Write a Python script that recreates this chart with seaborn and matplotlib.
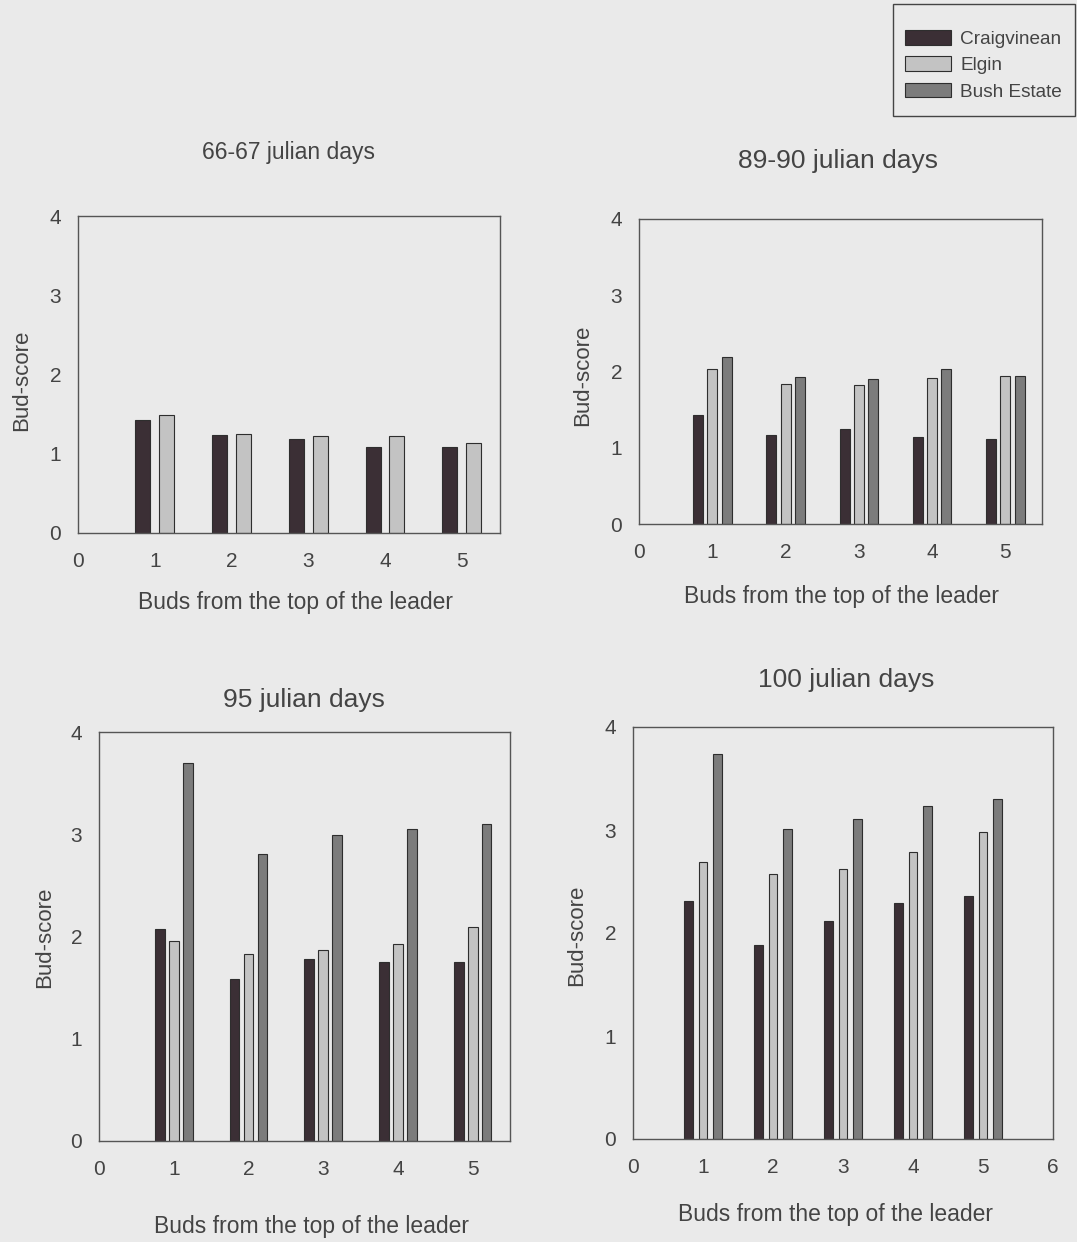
import matplotlib
matplotlib.use("Agg")
import matplotlib.pyplot as plt
from matplotlib.patches import Patch, Rectangle
import pandas as pd
import seaborn as sns

# ---- data -------------------------------------------------------------
buds = [1, 2, 3, 4, 5]
sites = ["Craigvinean", "Elgin", "Bush Estate"]

# mean bud-score per bud position (counted from the top of the leader)
craig_66 = [1.43, 1.24, 1.18, 1.08, 1.08]
elgin_66 = [1.49, 1.25, 1.23, 1.22, 1.13]

craig_89 = [1.43, 1.17, 1.24, 1.14, 1.12]
elgin_89 = [2.03, 1.84, 1.82, 1.92, 1.94]
bush_89 = [2.19, 1.93, 1.90, 2.03, 1.94]

craig_95 = [2.07, 1.58, 1.78, 1.75, 1.75]
elgin_95 = [1.96, 1.83, 1.87, 1.93, 2.09]
bush_95 = [3.70, 2.81, 2.99, 3.05, 3.10]

craig_100 = [2.31, 1.88, 2.12, 2.29, 2.36]
elgin_100 = [2.69, 2.57, 2.62, 2.79, 2.98]
bush_100 = [3.74, 3.01, 3.11, 3.23, 3.30]

titles = ["66-67 julian days", "89-90 julian days",
          "95 julian days", "100 julian days"]
xlabel = "Buds from the top of the leader"
ylabel = "Bud-score"

# ---- style ------------------------------------------------------------
W, H = 1077, 1242
BG = "#eaeaea"
INK = "#444444"
site_colors = {"Craigvinean": "#3b2f35", "Elgin": "#c3c3c3", "Bush Estate": "#7c7c7c"}

sns.set_theme(style="white")
plt.rcParams["font.family"] = ["Liberation Sans", "DejaVu Sans"]
plt.rcParams["text.color"] = INK
plt.rcParams["axes.labelcolor"] = INK
plt.rcParams["xtick.color"] = INK
plt.rcParams["ytick.color"] = INK

fig = plt.figure(figsize=(W / 100, H / 100), dpi=100, facecolor=BG)


def frame(df_parts):
    rows = []
    for site, vals in df_parts:
        for b, v in zip(buds, vals):
            rows.append({"bud": b, "score": v, "site": site})
    return pd.DataFrame(rows)


panels = [
    dict(data=frame([("Craigvinean", craig_66), ("Elgin", elgin_66)]),
         box=(78, 216, 500, 533), xmax=5.5, xticks=range(0, 6),
         width=0.62, gap=0.37, title=(288, 153, 16.5),
         xlab=(296, 603), ylab=(22, 380)),
    dict(data=frame([("Craigvinean", craig_89), ("Elgin", elgin_89), ("Bush Estate", bush_89)]),
         box=(639, 219, 1042, 524), xmax=5.5, xticks=range(0, 6),
         width=0.585, gap=0.30, title=(838, 161, 19),
         xlab=(842, 597), ylab=(583, 375)),
    dict(data=frame([("Craigvinean", craig_95), ("Elgin", elgin_95), ("Bush Estate", bush_95)]),
         box=(99, 732, 510, 1141), xmax=5.5, xticks=range(0, 6),
         width=0.56, gap=0.30, title=(304, 700, 19),
         xlab=(311, 1226), ylab=(45, 937)),
    dict(data=frame([("Craigvinean", craig_100), ("Elgin", elgin_100), ("Bush Estate", bush_100)]),
         box=(633, 727, 1053, 1139), xmax=6.0, xticks=range(0, 7),
         width=0.615, gap=0.40, title=(846, 680, 19),
         xlab=(836, 1214), ylab=(577, 935)),
]

for p, title in zip(panels, titles):
    l, t, r, b = p["box"]
    ax = fig.add_axes([l / W, 1 - b / H, (r - l) / W, (b - t) / H])
    ax.set_facecolor(BG)
    order = [s for s in sites if s in set(p["data"]["site"])]
    sns.barplot(data=p["data"], x="bud", y="score", hue="site",
                hue_order=order, palette=site_colors, native_scale=True,
                width=p["width"], gap=p["gap"], saturation=1,
                edgecolor="#2e2e2e", linewidth=0.8, errorbar=None,
                legend=False, ax=ax)
    ax.set_xlim(0, p["xmax"])
    ax.set_ylim(0, 4)
    ax.set_xticks(list(p["xticks"]))
    ax.set_xticklabels([str(v) for v in p["xticks"]])
    ax.set_yticks([0, 1, 2, 3, 4])
    ax.tick_params(axis="both", direction="out", length=5, width=1,
                   labelsize=15)
    ax.tick_params(axis="x", pad=9)
    ax.tick_params(axis="y", pad=7)
    for sp in ax.spines.values():
        sp.set_color("#555555")
        sp.set_linewidth(1.0)
    ax.set_xlabel(xlabel, fontsize=16.5)
    ax.set_ylabel(ylabel, fontsize=16)
    xl, yl = p["xlab"]
    ax.xaxis.set_label_coords((xl - l) / (r - l), (b - yl) / (b - t))
    ax.xaxis.label.set_va("center")
    yx, yy = p["ylab"]
    ax.yaxis.set_label_coords((yx - l) / (r - l), (b - yy) / (b - t))
    ax.yaxis.label.set_va("center")
    tx, ty, ts = p["title"]
    fig.text(tx / W, 1 - ty / H, title, ha="center", va="center", fontsize=ts)

# legend box in the top right corner
fig.patches.append(Rectangle((893 / W, 1 - 116 / H), (1075 - 893) / W, (116 - 4) / H,
                             transform=fig.transFigure, facecolor=BG,
                             edgecolor="#444444", linewidth=1.0, zorder=1))
handles = [Patch(facecolor=site_colors[s], edgecolor="#2e2e2e", linewidth=0.8) for s in sites]
fig.legend(handles, sites, loc="upper left",
           bbox_to_anchor=(905 / W, 1 - 30 / H), fontsize=13.7,
           frameon=False, handlelength=2.4, handleheight=0.8,
           labelspacing=0.45, borderpad=0, handletextpad=0.5,
           borderaxespad=0)

fig.savefig("out.png", dpi=100, facecolor=BG)
